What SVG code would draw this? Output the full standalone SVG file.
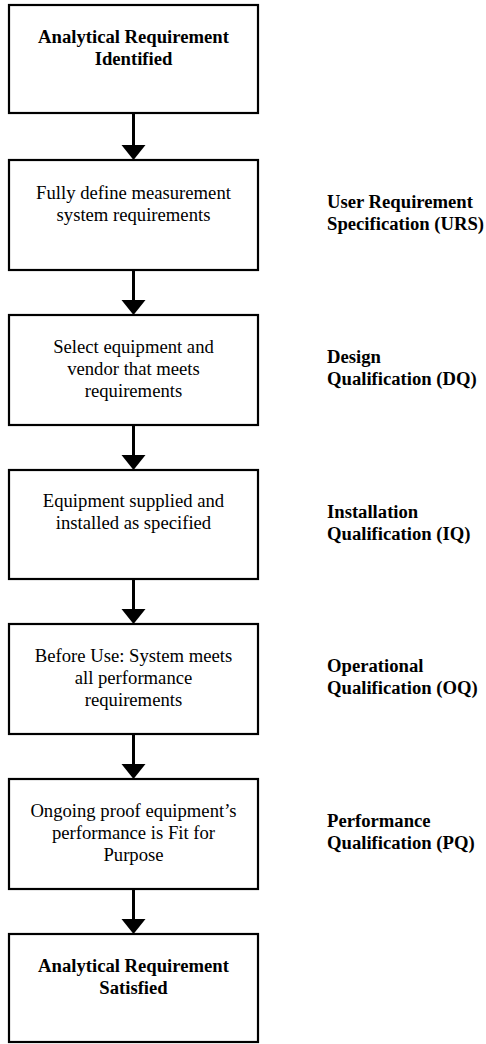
<svg xmlns="http://www.w3.org/2000/svg" width="486" height="1044" viewBox="0 0 486 1044">
<style>
.box{fill:#fff;stroke:#000;stroke-width:2.2}
text{font-family:'Liberation Serif','Times New Roman',Times,'DejaVu Serif',serif;font-size:18.67px;fill:#000}
.t{text-anchor:middle}
.b{font-weight:bold}
.l{font-weight:bold}
.sh{stroke:#000;stroke-width:3}
</style>
<rect width="486" height="1044" fill="#fff"/>
<g id="connectors">
<line class="sh" x1="133.5" y1="113" x2="133.5" y2="147"/><polygon points="121.5,145 145.5,145 133.5,160"/>
<line class="sh" x1="133.5" y1="270" x2="133.5" y2="302"/><polygon points="121.5,300 145.5,300 133.5,315"/>
<line class="sh" x1="133.5" y1="425" x2="133.5" y2="457"/><polygon points="121.5,455 145.5,455 133.5,470"/>
<line class="sh" x1="133.5" y1="579" x2="133.5" y2="611"/><polygon points="121.5,609 145.5,609 133.5,624"/>
<line class="sh" x1="133.5" y1="734" x2="133.5" y2="766"/><polygon points="121.5,764 145.5,764 133.5,779"/>
<line class="sh" x1="133.5" y1="889" x2="133.5" y2="921"/><polygon points="121.5,919 145.5,919 133.5,934"/>
</g>
<g id="n1"><rect class="box" x="9" y="5" width="249" height="108"/>
<text class="t b" x="133.5" y="43">Analytical Requirement</text><text class="t b" x="133.5" y="65">Identified</text></g>
<g id="n2"><rect class="box" x="9" y="160" width="249" height="110"/>
<text class="t" x="133.5" y="199">Fully define measurement</text><text class="t" x="133.5" y="221">system requirements</text></g>
<g id="n3"><rect class="box" x="9" y="315" width="249" height="110"/>
<text class="t" x="133.5" y="353">Select equipment and</text><text class="t" x="133.5" y="375">vendor that meets</text><text class="t" x="133.5" y="397">requirements</text></g>
<g id="n4"><rect class="box" x="9" y="470" width="249" height="109"/>
<text class="t" x="133.5" y="507">Equipment supplied and</text><text class="t" x="133.5" y="529">installed as specified</text></g>
<g id="n5"><rect class="box" x="9" y="624" width="249" height="110"/>
<text class="t" x="133.5" y="662">Before Use: System meets</text><text class="t" x="133.5" y="684">all performance</text><text class="t" x="133.5" y="706">requirements</text></g>
<g id="n6"><rect class="box" x="9" y="779" width="249" height="110"/>
<text class="t" x="133.5" y="817">Ongoing proof equipment’s</text><text class="t" x="133.5" y="839">performance is Fit for</text><text class="t" x="133.5" y="861">Purpose</text></g>
<g id="n7"><rect class="box" x="9" y="934" width="249" height="108"/>
<text class="t b" x="133.5" y="972">Analytical Requirement</text><text class="t b" x="133.5" y="994">Satisfied</text></g>
<g id="labels">
<text class="l" x="327" y="208">User Requirement</text><text class="l" x="327" y="230">Specification (URS)</text>
<text class="l" x="327" y="363">Design</text><text class="l" x="327" y="385">Qualification (DQ)</text>
<text class="l" x="327" y="518">Installation</text><text class="l" x="327" y="540">Qualification (IQ)</text>
<text class="l" x="327" y="672">Operational</text><text class="l" x="327" y="694">Qualification (OQ)</text>
<text class="l" x="327" y="827">Performance</text><text class="l" x="327" y="849">Qualification (PQ)</text>
</g>
</svg>
